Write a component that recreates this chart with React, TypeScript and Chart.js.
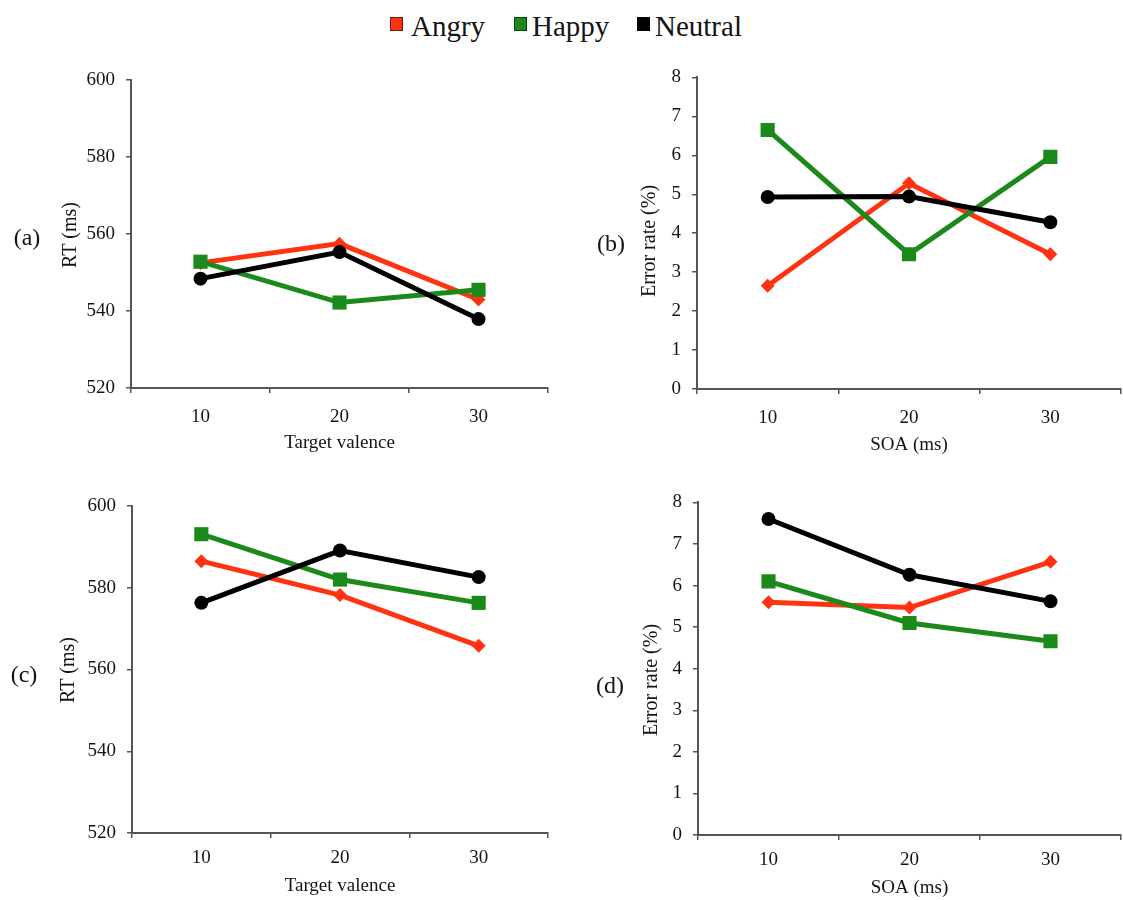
import { useEffect, useRef } from "react";
import { Chart, registerables } from "chart.js";

Chart.register(...registerables);

// Shared category axis and series names
const levels = ["10", "20", "30"];
const seriesNames = ["Angry", "Happy", "Neutral"];

// (a) RT by target valence
const angryRtA = [552.5, 557.5, 543.0];
const happyRtA = [552.8, 542.2, 545.5];
const neutralRtA = [548.4, 555.3, 537.9];

// (b) error rate by SOA
const angryErrB = [2.65, 5.28, 3.46];
const happyErrB = [6.65, 3.46, 5.96];
const neutralErrB = [4.93, 4.94, 4.28];

// (c) RT by target valence
const angryRtC = [586.5, 578.2, 565.8];
const happyRtC = [593.1, 582.0, 576.3];
const neutralRtC = [576.3, 589.1, 582.6];

// (d) error rate by SOA
const angryErrD = [5.6, 5.47, 6.57];
const happyErrD = [6.1, 5.1, 4.66];
const neutralErrD = [7.6, 6.26, 5.62];

// Value axes
const rtRange = [520, 600];
const rtStep = 20;
const errRange = [0, 8];
const errStep = 1;

const SERIF = "'Liberation Serif', 'Times New Roman', serif";
const TEXT = "#141414";
const AXIS = "#555555";
const COLORS = ["#ff3311", "#1b8a1b", "#000000"];
const POINT_STYLES = ["rectRot", "rect", "circle"];
const POINT_RADII = [7, 10, 7];

type Panel = {
  tag: string;
  values: number[][];
  range: number[];
  step: number;
  yTitle: string;
  xTitle: string;
  box: { left: number; top: number; width: number; height: number };
  area: { left: number; top: number; right: number; bottom: number };
  yTitlePos: { x: number; y: number };
  xTickY: number;
  xTitleY: number;
  tagPos: { x: number; y: number };
};

const panels: Panel[] = [
  {
    tag: "(a)",
    values: [angryRtA, happyRtA, neutralRtA],
    range: rtRange,
    step: rtStep,
    yTitle: "RT (ms)",
    xTitle: "Target valence",
    box: { left: 0, top: 55, width: 565, height: 405 },
    area: { left: 131, top: 80, right: 548, bottom: 388 },
    yTitlePos: { x: 71, y: 235 },
    xTickY: 417,
    xTitleY: 443,
    tagPos: { x: 27, y: 237 },
  },
  {
    tag: "(b)",
    values: [angryErrB, happyErrB, neutralErrB],
    range: errRange,
    step: errStep,
    yTitle: "Error rate (%)",
    xTitle: "SOA (ms)",
    box: { left: 565, top: 55, width: 558, height: 405 },
    area: { left: 697, top: 74, right: 1121, bottom: 389 },
    yTitlePos: { x: 650, y: 241 },
    xTickY: 418,
    xTitleY: 445,
    tagPos: { x: 611, y: 243 },
  },
  {
    tag: "(c)",
    values: [angryRtC, happyRtC, neutralRtC],
    range: rtRange,
    step: rtStep,
    yTitle: "RT (ms)",
    xTitle: "Target valence",
    box: { left: 0, top: 480, width: 565, height: 420 },
    area: { left: 132, top: 506, right: 548, bottom: 833 },
    yTitlePos: { x: 69, y: 670 },
    xTickY: 858,
    xTitleY: 886,
    tagPos: { x: 24, y: 674 },
  },
  {
    tag: "(d)",
    values: [angryErrD, happyErrD, neutralErrD],
    range: errRange,
    step: errStep,
    yTitle: "Error rate (%)",
    xTitle: "SOA (ms)",
    box: { left: 565, top: 480, width: 558, height: 420 },
    area: { left: 698, top: 502, right: 1121, bottom: 835 },
    yTitlePos: { x: 652, y: 680 },
    xTickY: 860,
    xTitleY: 888,
    tagPos: { x: 610, y: 685 },
  },
];

const TICK_SIZE = 19;
const XTITLE_SIZE = 19;
const YTITLE_SIZE = 20;
const TICK_LEN = 5;

// Rotated value-axis title drawn at a fixed spot beside the axis
const sideTitle = {
  id: "sideTitle",
  afterDraw(chart: any, _args: any, opts: any) {
    const ctx = chart.ctx as CanvasRenderingContext2D;
    ctx.save();
    ctx.translate(opts.x, opts.y);
    ctx.rotate(-Math.PI / 2);
    ctx.font = `${opts.size}px ${SERIF}`;
    ctx.fillStyle = TEXT;
    ctx.textAlign = "center";
    ctx.textBaseline = "middle";
    ctx.fillText(opts.text, 0, 0);
    ctx.restore();
  },
};

function PanelChart({ p }: { p: Panel }) {
  const ref = useRef<HTMLCanvasElement | null>(null);

  useEffect(() => {
    if (!ref.current) return;
    const { box, area } = p;
    const yWidth = area.left - box.left;
    const xHeight = box.top + box.height - area.bottom;
    const tickLine = TICK_SIZE * 1.2;
    const xTickPad = p.xTickY - area.bottom - TICK_LEN - tickLine / 2;
    const xTitlePad = box.top + box.height - p.xTitleY - (XTITLE_SIZE * 1.2) / 2;

    const chart = new Chart(ref.current, {
      type: "line",
      data: {
        labels: levels,
        datasets: seriesNames.map((name, i) => ({
          label: name,
          data: p.values[i],
          borderColor: COLORS[i],
          backgroundColor: COLORS[i],
          borderWidth: 5,
          pointStyle: POINT_STYLES[i],
          pointRadius: POINT_RADII[i],
          pointBorderWidth: 0,
          pointBackgroundColor: COLORS[i],
          tension: 0,
          order: 3 - i,
        })),
      },
      plugins: [sideTitle],
      options: {
        responsive: false,
        animation: false,
        devicePixelRatio: 1,
        layout: {
          autoPadding: false,
          padding: {
            left: 0,
            top: area.top - box.top,
            right: box.left + box.width - area.right,
            bottom: 0,
          },
        },
        plugins: {
          legend: { display: false },
          tooltip: { enabled: false },
          sideTitle: {
            text: p.yTitle,
            size: YTITLE_SIZE,
            x: p.yTitlePos.x - box.left,
            y: p.yTitlePos.y - box.top,
          },
        } as any,
        scales: {
          x: {
            type: "category",
            offset: true,
            grid: {
              offset: true,
              drawOnChartArea: false,
              drawTicks: true,
              tickLength: TICK_LEN,
              color: AXIS,
              lineWidth: 1.5,
            },
            border: { display: true, color: AXIS, width: 2 },
            ticks: {
              color: TEXT,
              font: { family: SERIF, size: TICK_SIZE },
              padding: xTickPad,
              maxRotation: 0,
              autoSkip: false,
            },
            title: {
              display: true,
              text: p.xTitle,
              color: TEXT,
              font: { family: SERIF, size: XTITLE_SIZE },
              padding: { top: 0, bottom: xTitlePad },
            },
            afterFit: (s: any) => {
              s.height = xHeight;
              s.paddingLeft = 0;
              s.paddingRight = 0;
            },
          },
          y: {
            min: p.range[0],
            max: p.range[1],
            grid: {
              drawOnChartArea: false,
              drawTicks: true,
              tickLength: TICK_LEN,
              color: AXIS,
              lineWidth: 1.5,
            },
            border: { display: true, color: AXIS, width: 2 },
            ticks: {
              stepSize: p.step,
              color: TEXT,
              font: { family: SERIF, size: TICK_SIZE },
              padding: 11,
            },
            afterFit: (s: any) => {
              s.width = yWidth;
            },
          },
        },
      },
    });
    return () => chart.destroy();
  }, [p]);

  return (
    <>
      <canvas
        ref={ref}
        width={p.box.width}
        height={p.box.height}
        style={{
          position: "absolute",
          left: p.box.left,
          top: p.box.top,
          width: p.box.width,
          height: p.box.height,
          display: "block",
        }}
      />
      <div
        style={{
          position: "absolute",
          left: p.tagPos.x,
          top: p.tagPos.y,
          transform: "translate(-50%, -50%)",
          fontFamily: SERIF,
          fontSize: 24,
          color: TEXT,
          lineHeight: 1,
          whiteSpace: "nowrap",
        }}
      >
        {p.tag}
      </div>
    </>
  );
}

function Legend() {
  const lefts = [390, 514, 637];
  return (
    <>
      {seriesNames.map((name, i) => (
        <div
          key={name}
          style={{
            position: "absolute",
            left: lefts[i],
            top: 9,
            display: "flex",
            alignItems: "flex-start",
            fontFamily: SERIF,
            fontSize: 29,
            lineHeight: "34px",
            color: TEXT,
            whiteSpace: "nowrap",
          }}
        >
          <span
            style={{
              display: "inline-block",
              width: 11,
              height: 12,
              marginTop: 8,
              marginRight: i === 0 ? 8 : 5,
              background: COLORS[i],
              border: "1.5px solid rgba(0,0,0,0.55)",
            }}
          />
          <span>{name}</span>
        </div>
      ))}
    </>
  );
}

export default function App() {
  return (
    <div
      style={{
        position: "absolute",
        left: 0,
        top: 0,
        width: 1123,
        height: 900,
        background: "#ffffff",
        overflow: "hidden",
      }}
    >
      <Legend />
      {panels.map((p) => (
        <PanelChart key={p.tag} p={p} />
      ))}
    </div>
  );
}
